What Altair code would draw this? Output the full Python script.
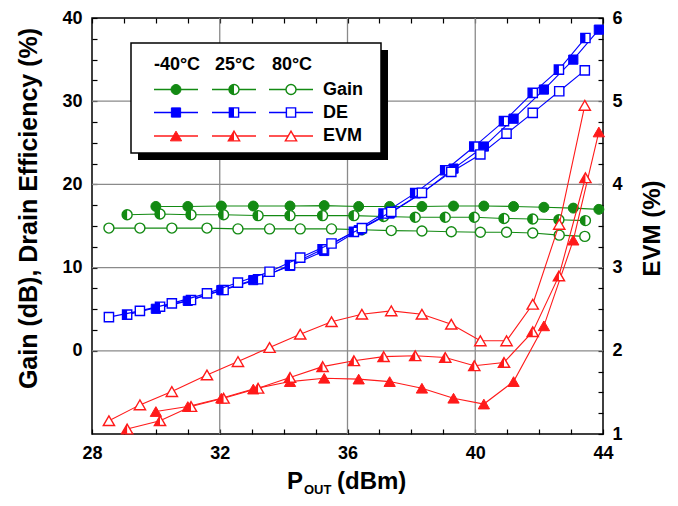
import altair as alt
import pandas as pd

# ---------------- data ----------------
pout_m40 = [30.0, 31.0, 32.05, 33.05, 34.2, 35.27, 36.35, 37.32, 38.33, 39.32, 40.27, 41.2, 42.15, 43.07, 43.87]
gain_m40 = [17.35, 17.35, 17.4, 17.4, 17.4, 17.45, 17.35, 17.35, 17.35, 17.4, 17.4, 17.35, 17.25, 17.15, 17.0]
de_m40 = [5.05, 6.0, 7.3, 8.5, 10.2, 12.0, 14.5, 16.5, 18.95, 21.9, 24.55, 27.9, 31.4, 35.0, 38.6]
evm_m40 = [1.27, 1.33, 1.43, 1.54, 1.63, 1.67, 1.66, 1.63, 1.55, 1.43, 1.36, 1.63, 2.3, 3.33, 4.63]

pout_25 = [29.1, 30.13, 31.1, 32.12, 33.2, 34.2, 35.22, 36.2, 37.13, 38.12, 39.06, 39.97, 40.9, 41.8, 42.62, 43.45]
gain_25 = [16.35, 16.45, 16.35, 16.35, 16.25, 16.25, 16.25, 16.25, 16.15, 16.05, 16.05, 16.05, 15.9, 15.85, 15.75, 15.65]
de_25 = [4.35, 5.3, 6.1, 7.3, 8.6, 10.3, 12.2, 14.3, 16.5, 18.95, 21.7, 24.55, 27.6, 31.0, 33.8, 37.6]
evm_25 = [1.06, 1.16, 1.33, 1.43, 1.55, 1.68, 1.81, 1.88, 1.93, 1.94, 1.92, 1.82, 1.86, 2.23, 2.9, 4.08]

pout_80 = [28.53, 29.5, 30.5, 31.6, 32.57, 33.56, 34.52, 35.5, 36.45, 37.37, 38.33, 39.25, 40.16, 40.98, 41.8, 42.63, 43.43]
gain_80 = [14.75, 14.75, 14.75, 14.75, 14.65, 14.65, 14.65, 14.65, 14.55, 14.45, 14.4, 14.3, 14.25, 14.25, 14.15, 13.9, 13.75]
de_80 = [4.05, 4.8, 5.7, 6.9, 8.2, 9.5, 11.2, 12.9, 14.75, 16.7, 19.0, 21.5, 23.6, 26.1, 28.6, 31.2, 33.7]
evm_80 = [1.16, 1.35, 1.51, 1.71, 1.87, 2.04, 2.2, 2.35, 2.44, 2.48, 2.44, 2.32, 2.12, 2.12, 2.56, 3.52, 4.95]

temps = ["-40°C", "25°C", "80°C"]
metrics = ["Gain", "DE", "EVM"]

x_ticks = list(range(28, 45))
left_ticks = [i * 2.5 for i in range(0, 17)]
right_ticks = [1 + i * 0.25 for i in range(0, 21)]
grid_x = [32, 36, 40]
grid_y = [0, 10, 20, 30]

# ---------------- styling ----------------
FONT = "Liberation Sans"
GREEN = "#138a13"
BLUE = "#0000ff"
RED = "#ff1a1a"
GRID = "#8a8a8a"
COLORS = {"Gain": GREEN, "DE": BLUE, "EVM": RED}

CIRCLE = "M1,0A1,1,0,1,1,-1,0A1,1,0,1,1,1,0Z"
CIRCLE_H = "M0,-1A1,1,0,0,0,0,1Z"
SQUARE = "M-1,-1H1V1H-1Z"
SQUARE_H = "M-1,-1H0V1H-1Z"
TRI = "M0,-0.95L-1.1,0.95L1.1,0.95Z"
TRI_H = "M0,-0.95L-1.1,0.95L0,0.95Z"
SHAPES = {"Gain": (CIRCLE, CIRCLE_H, 100), "DE": (SQUARE, SQUARE_H, 85), "EVM": (TRI, TRI_H, 105)}
KIND = {"-40°C": "filled", "25°C": "half", "80°C": "open"}

W, H = 511, 416

xs = alt.Scale(domain=[28, 44], nice=False, zero=False)
ls = alt.Scale(domain=[-10, 40], nice=False, zero=False)
rs = alt.Scale(domain=[1, 6], nice=False, zero=False)

x_bottom = alt.Axis(orient="bottom", values=x_ticks, labelExpr="datum.value % 4 == 0 ? datum.label : ''",
                    tickSize=5, offset=-5, domain=False, grid=False, labelPadding=10, title=None,
                    labelFlush=False, labelBaseline="top")
x_top = alt.Axis(orient="top", values=x_ticks, labels=False, tickSize=5, offset=-5, domain=False,
                 grid=False, title=None)
y_left = alt.Axis(orient="left", values=left_ticks, labelExpr="datum.value % 10 == 0 ? datum.label : ''",
                  tickSize=5, offset=-5, domain=False, grid=False, labelPadding=10, labelFlush=False,
                  title="Gain (dB), Drain Efficiency (%)", titleAngle=270, titleX=-69, titleY=190,
                  titleAlign="center", titleBaseline="middle", titleFontSize=25)
y_right = alt.Axis(orient="right", values=right_ticks,
                   labelExpr="datum.value % 1 == 0 ? format(datum.value, 'd') : ''",
                   tickSize=5, offset=-5, domain=False, grid=False, labelPadding=9, labelFlush=False,
                   title="EVM (%)", titleAngle=270, titleX=54, titleY=210, titleAlign="center",
                   titleBaseline="middle")

dummy = pd.DataFrame({"k": [0]})


def series(pout, vals, metric, temp, yscale, yaxis, xaxis):
    color = COLORS[metric]
    full, half, size = SHAPES[metric]
    kind = KIND[temp]
    d = pd.DataFrame({"p": pout, "v": vals})
    base = alt.Chart(d).encode(
        x=alt.X("p:Q", scale=xs, axis=xaxis),
        y=alt.Y("v:Q", scale=yscale, axis=yaxis),
    )
    out = [base.mark_line(color=color, strokeWidth=1.1)]
    if kind == "filled":
        out.append(base.mark_point(shape=full, filled=True, fill=color, stroke=color, strokeWidth=1,
                                   size=size, opacity=1))
    else:
        out.append(base.mark_point(shape=full, filled=True, fill="white", stroke=color, strokeWidth=1.4,
                                   size=size, opacity=1))
        if kind == "half":
            out.append(base.mark_point(shape=half, filled=True, fill=color, strokeWidth=0,
                                       size=size, opacity=1))
    return out


# grid
grid_v = alt.Chart(pd.DataFrame({"g": grid_x})).mark_rule(color=GRID, strokeWidth=1.3).encode(
    x=alt.X("g:Q", scale=xs, axis=x_bottom))
grid_h = alt.Chart(pd.DataFrame({"g": grid_y})).mark_rule(color=GRID, strokeWidth=1.3).encode(
    y=alt.Y("g:Q", scale=ls, axis=y_left))

left_layers = [grid_v, grid_h]
for metric, data in (("Gain", (gain_m40, gain_25, gain_80)), ("DE", (de_m40, de_25, de_80))):
    for temp, px, vals in zip(temps, (pout_m40, pout_25, pout_80), data):
        left_layers += series(px, vals, metric, temp, ls, y_left, x_bottom)

right_layers = []
for temp, px, vals in zip(temps, (pout_m40, pout_25, pout_80), (evm_m40, evm_25, evm_80)):
    right_layers += series(px, vals, "EVM", temp, rs, y_right, x_top)

# ---------------- legend (pixel layout, plot-relative) ----------------
BOX = (39, 25, 289, 135)
SH = 7
col_x = [84, 142, 199]
row_y = [71.5, 94.5, 118]
head_y = 47
label_x = 231
seg = 22

leg = []
leg.append(alt.Chart(dummy).mark_rect(color="black").encode(
    x=alt.value(BOX[0] + SH), x2=alt.value(BOX[2] + SH), y=alt.value(BOX[1] + SH), y2=alt.value(BOX[3] + SH)))
leg.append(alt.Chart(dummy).mark_rect(fill="white", stroke="black", strokeWidth=1.5).encode(
    x=alt.value(BOX[0]), x2=alt.value(BOX[2]), y=alt.value(BOX[1]), y2=alt.value(BOX[3])))
for t, cx in zip(temps, col_x):
    leg.append(alt.Chart(dummy).mark_text(text=t, font=FONT, fontWeight="bold", fontSize=18, color="black",
                                          align="center", baseline="middle").encode(
        x=alt.value(cx + 1), y=alt.value(head_y)))
for m, ry in zip(metrics, row_y):
    color = COLORS[m]
    full, half, size = SHAPES[m]
    for t, cx in zip(temps, col_x):
        leg.append(alt.Chart(dummy).mark_rule(color=color, strokeWidth=1.3).encode(
            x=alt.value(cx - seg), x2=alt.value(cx + seg), y=alt.value(ry)))
        kind = KIND[t]
        if kind == "filled":
            leg.append(alt.Chart(dummy).mark_point(shape=full, filled=True, fill=color, stroke=color,
                                                   strokeWidth=1, size=size, opacity=1).encode(
                x=alt.value(cx), y=alt.value(ry)))
        else:
            leg.append(alt.Chart(dummy).mark_point(shape=full, filled=True, fill="white", stroke=color,
                                                   strokeWidth=1.4, size=size, opacity=1).encode(
                x=alt.value(cx), y=alt.value(ry)))
            if kind == "half":
                leg.append(alt.Chart(dummy).mark_point(shape=half, filled=True, fill=color, strokeWidth=0,
                                                       size=size, opacity=1).encode(
                    x=alt.value(cx), y=alt.value(ry)))
    leg.append(alt.Chart(dummy).mark_text(text=m, font=FONT, fontWeight="bold", fontSize=18, color="black",
                                          align="left", baseline="middle").encode(
        x=alt.value(label_x), y=alt.value(ry)))

# x-axis title with subscript
xt = []
xt.append(alt.Chart(dummy).mark_text(text="P", font=FONT, fontWeight="bold", fontSize=24, color="black",
                                     align="right", baseline="alphabetic").encode(
    x=alt.value(211), y=alt.value(471)))
xt.append(alt.Chart(dummy).mark_text(text="OUT", font=FONT, fontWeight="bold", fontSize=13, color="black",
                                     align="left", baseline="alphabetic").encode(
    x=alt.value(212), y=alt.value(476)))
xt.append(alt.Chart(dummy).mark_text(text="(dBm)", font=FONT, fontWeight="bold", fontSize=24, color="black",
                                     align="left", baseline="alphabetic").encode(
    x=alt.value(245), y=alt.value(471)))

left_group = alt.layer(*left_layers, *leg, *xt)
right_group = alt.layer(*right_layers)

chart = (
    alt.layer(left_group, right_group)
    .resolve_scale(y="independent")
    .resolve_axis(x="independent", y="independent")
    .properties(width=W, height=H, padding={"left": 84, "top": 10, "right": 67, "bottom": 64},
                autosize=alt.AutoSizeParams(type="none"), background="white")
    .configure_view(stroke="black", strokeWidth=1.5)
    .configure_axis(labelFont=FONT, labelFontWeight="bold", labelFontSize=18, labelColor="black",
                    tickColor="black", tickWidth=1.2, titleFont=FONT, titleFontWeight="bold",
                    titleFontSize=24, titleColor="black")
)

chart.save("out.html", embed_options={"renderer": "svg", "actions": False})
